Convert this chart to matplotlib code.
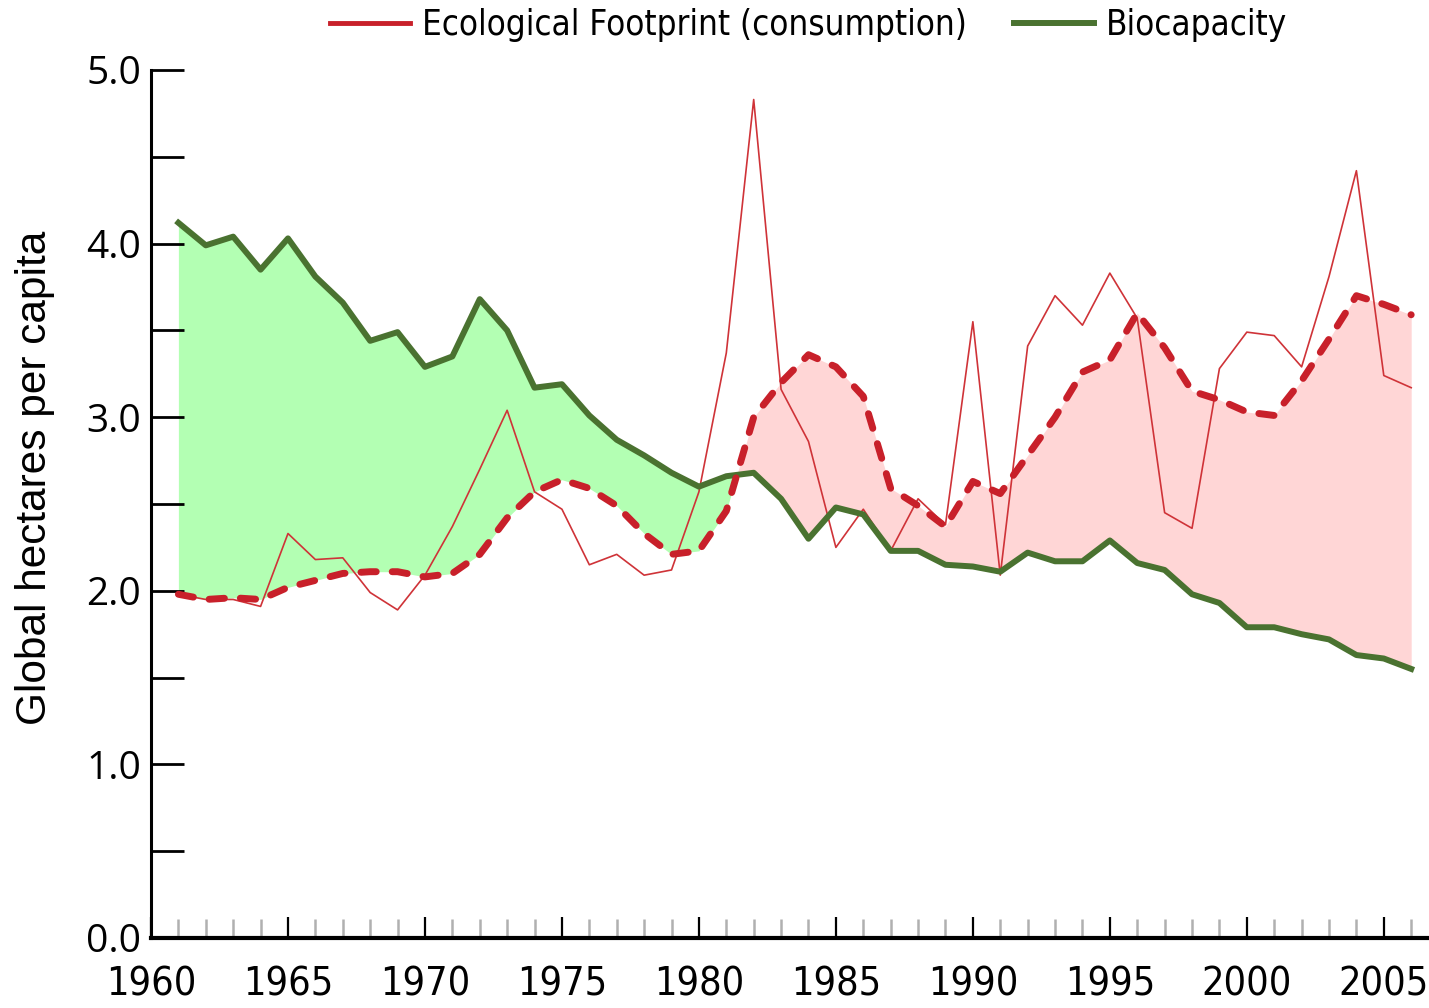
import matplotlib
matplotlib.use("Agg")
import matplotlib.pyplot as plt
from matplotlib.ticker import MultipleLocator
from matplotlib import font_manager as fm
from matplotlib.font_manager import FontProperties
from matplotlib.lines import Line2D
import numpy as np

years = list(range(1961, 2007))

biocapacity = [4.12, 3.99, 4.04, 3.85, 4.03, 3.81, 3.66, 3.44, 3.49, 3.29,
               3.35, 3.68, 3.50, 3.17, 3.19, 3.01, 2.87, 2.78, 2.68, 2.60,
               2.66, 2.68, 2.53, 2.30, 2.48, 2.44, 2.23, 2.23, 2.15, 2.14,
               2.11, 2.22, 2.17, 2.17, 2.29, 2.16, 2.12, 1.98, 1.93, 1.79,
               1.79, 1.75, 1.72, 1.63, 1.61, 1.55]

footprint = [1.98, 1.95, 1.95, 1.91, 2.33, 2.18, 2.19, 1.99, 1.89, 2.09,
             2.37, 2.70, 3.04, 2.57, 2.47, 2.15, 2.21, 2.09, 2.12, 2.57,
             3.37, 4.83, 3.16, 2.86, 2.25, 2.47, 2.23, 2.53, 2.38, 3.55,
             2.09, 3.41, 3.70, 3.53, 3.83, 3.57, 2.45, 2.36, 3.28, 3.49,
             3.47, 3.29, 3.81, 4.42, 3.24, 3.17]

footprint_smooth = [1.98, 1.95, 1.96, 1.95, 2.02, 2.06, 2.10, 2.11, 2.11, 2.08,
                    2.10, 2.21, 2.42, 2.57, 2.64, 2.59, 2.49, 2.33, 2.21, 2.23,
                    2.46, 3.00, 3.20, 3.36, 3.29, 3.12, 2.59, 2.49, 2.37, 2.63,
                    2.56, 2.78, 3.00, 3.26, 3.33, 3.60, 3.40, 3.15, 3.10, 3.03,
                    3.01, 3.21, 3.45, 3.70, 3.65, 3.59]

y_ticks = [0.0, 1.0, 2.0, 3.0, 4.0, 5.0]
y_labels = ["0.0", "1.0", "2.0", "3.0", "4.0", "5.0"]
x_ticks = [1960, 1965, 1970, 1975, 1980, 1985, 1990, 1995, 2000, 2005]
x_labels = ["1960", "1965", "1970", "1975", "1980", "1985", "1990", "1995", "2000", "2005"]
legend_labels = ["Ecological Footprint (consumption)", "Biocapacity"]

GREEN = "#4a7230"
RED = "#c8202a"
RED_THIN = "#cf3338"
GREEN_FILL = "#b3ffb3"
PINK_FILL = "#ffd6d6"


def pick_condensed():
    best = None
    for f in fm.fontManager.ttflist:
        nm = f.name
        st = str(f.stretch).lower()
        is_cond = ("narrow" in nm.lower() or "condensed" in nm.lower()
                   or st in ("condensed", "semi-condensed", "extra-condensed"))
        if not is_cond:
            continue
        if str(f.style) != "normal":
            continue
        w = f.weight if isinstance(f.weight, int) else {"normal": 400, "regular": 400}.get(str(f.weight), 700)
        if w not in (400,):
            continue
        score = 0 if "Liberation" in nm else (1 if "DejaVu" in nm else 2)
        if best is None or score < best[0]:
            best = (score, f.fname)
    if best is not None:
        return FontProperties(fname=best[1])
    return FontProperties(family=["Liberation Sans", "DejaVu Sans"])


cond_fp = pick_condensed()

fig = plt.figure(figsize=(14.29, 10.08), dpi=100)
renderer = fig.canvas.get_renderer()


def size_for_width(text, width_px, fp):
    t = fig.text(0, 0, text, fontproperties=fp, size=20)
    bb = t.get_window_extent(renderer)
    t.remove()
    return 20 * width_px / bb.width


xlab_size = size_for_width("1960", 90, cond_fp)
leg_size = size_for_width(legend_labels[0], 545, cond_fp)

ax = fig.add_axes([151/1429, 70/1008, 1278/1429, 868/1008])

x = np.array(years, dtype=float)
bio = np.array(biocapacity)
fps = np.array(footprint_smooth)

ax.fill_between(x, bio, fps, where=bio >= fps, interpolate=True,
                color=GREEN_FILL, linewidth=0, zorder=1)
ax.fill_between(x, bio, fps, where=fps >= bio, interpolate=True,
                color=PINK_FILL, linewidth=0, zorder=1)

ax.plot(x, footprint, color=RED_THIN, linewidth=1.2, zorder=3)
ax.plot(x, bio, color=GREEN, linewidth=4.3, zorder=4)
ax.plot(x, fps, color=RED, linewidth=5, dashes=(2.2, 2.3),
        dash_capstyle="round", zorder=5)

ax.set_xlim(1960, 2006.65)
ax.set_ylim(0, 5.0)

for s in ("top", "right"):
    ax.spines[s].set_visible(False)
ax.spines["left"].set_linewidth(2.2)
ax.spines["bottom"].set_linewidth(3)
ax.spines["left"].set_zorder(6)
ax.spines["bottom"].set_zorder(6)

ax.set_yticks(y_ticks)
ax.set_yticklabels(y_labels, fontfamily=["Open Sans", "DejaVu Sans"], fontsize=28)
ax.yaxis.set_minor_locator(MultipleLocator(0.5))
ax.tick_params(axis="y", which="both", direction="in", length=24, width=2,
               color="black", pad=7)

ax.set_xticks(x_ticks)
ax.set_xticklabels(x_labels, fontproperties=cond_fp)
for lab in ax.get_xticklabels():
    lab.set_fontsize(xlab_size)
ax.xaxis.set_minor_locator(MultipleLocator(1))
ax.tick_params(axis="x", which="major", direction="in", length=15, width=1.6,
               color="black", pad=20)
ax.tick_params(axis="x", which="minor", direction="in", length=14, width=1.8,
               color="#b0b0b0")

ax.set_ylabel("Global hectares per capita", fontsize=30.5,
              fontfamily=["Liberation Sans", "DejaVu Sans"], va="center")
ax.yaxis.set_label_coords((35 - 151) / 1278, 0.53)

handles = [Line2D([], [], color=RED, linewidth=3.5),
           Line2D([], [], color=GREEN, linewidth=4.3)]
leg_fp = cond_fp.copy()
leg_fp.set_size(leg_size)
fig.legend(handles, legend_labels,
           loc="center", bbox_to_anchor=(0.566, 0.975), ncol=2, frameon=False,
           prop=leg_fp, handlelength=57.6 / leg_size,
           handletextpad=8.6 / leg_size, columnspacing=34 / leg_size)

fig.savefig("out.png", dpi=100)
